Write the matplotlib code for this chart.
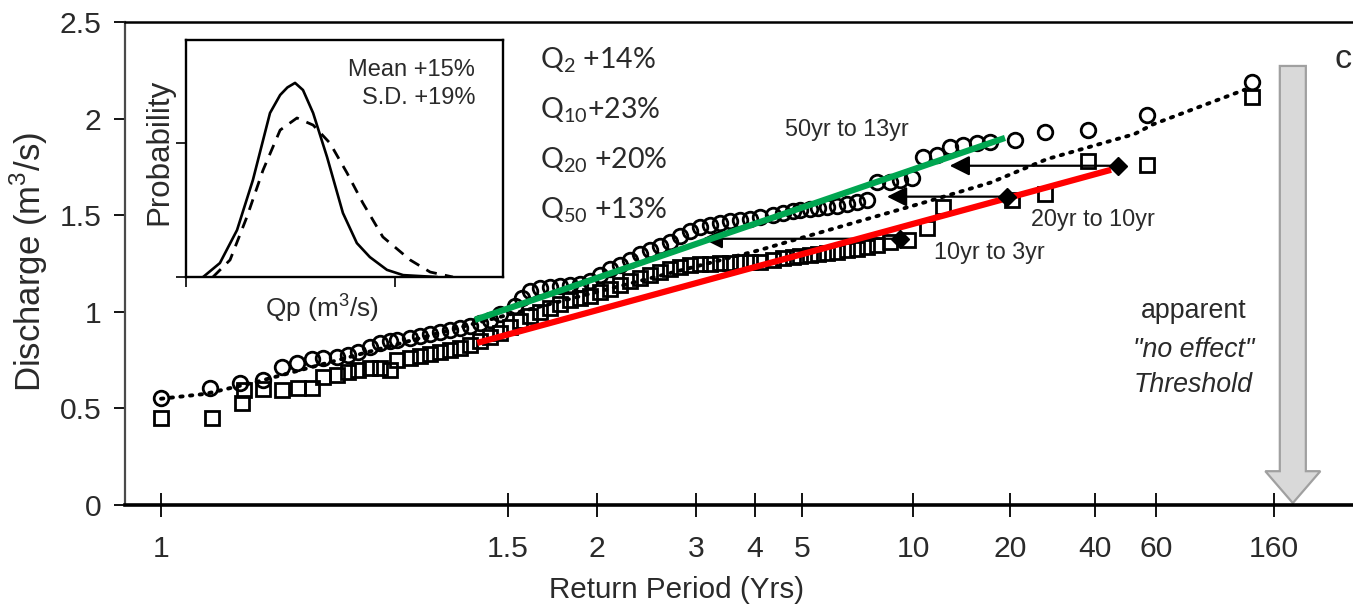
import numpy as np
import matplotlib
matplotlib.use('Agg')
import matplotlib.pyplot as plt
from matplotlib import font_manager
from matplotlib.patches import FancyArrow
from matplotlib.ticker import FixedLocator, FixedFormatter, NullLocator

# ---------------- data ----------------
tick_T = [1, 1.5, 2, 3, 4, 5, 10, 20, 40, 60, 160]
tick_labels = ['1', '1.5', '2', '3', '4', '5', '10', '20', '40', '60', '160']
y_ticks = [0, 0.5, 1, 1.5, 2, 2.5]
y_tick_labels = ['0', '0.5', '1', '1.5', '2', '2.5']

# circles (upper series): return period (yrs), discharge (m3/s)
circle_T = [1.000, 1.059, 1.097, 1.127, 1.152, 1.172, 1.193, 1.208, 1.228, 1.244,
            1.259, 1.277, 1.292, 1.307, 1.318, 1.338, 1.354, 1.369, 1.386, 1.402,
            1.418, 1.435, 1.452, 1.469, 1.486, 1.534, 1.570, 1.611, 1.664, 1.718,
            1.775, 1.833, 1.893, 1.955, 2.025, 2.109, 2.198, 2.290, 2.385, 2.485,
            2.589, 2.697, 2.810, 2.927, 3.059, 3.212, 3.372, 3.541, 3.718, 3.904,
            4.096, 4.357, 4.570, 4.791, 4.954, 5.256, 5.525, 5.845, 6.221, 6.622,
            7.050, 7.503, 7.987, 8.662, 9.220, 9.938, 10.74, 11.87, 13.03, 14.29,
            15.80, 17.34, 20.83, 26.61, 37.78, 56.51, 133.3]
circle_Q = [0.554, 0.606, 0.632, 0.648, 0.715, 0.736, 0.756, 0.760, 0.767, 0.777,
            0.793, 0.820, 0.840, 0.850, 0.855, 0.865, 0.875, 0.885, 0.895, 0.905,
            0.915, 0.925, 0.940, 0.960, 0.990, 1.030, 1.070, 1.110, 1.125, 1.130,
            1.135, 1.140, 1.145, 1.160, 1.190, 1.220, 1.240, 1.270, 1.300, 1.320,
            1.340, 1.360, 1.390, 1.420, 1.440, 1.450, 1.460, 1.470, 1.475, 1.480,
            1.490, 1.500, 1.510, 1.520, 1.525, 1.530, 1.535, 1.540, 1.550, 1.560,
            1.570, 1.580, 1.670, 1.670, 1.680, 1.690, 1.800, 1.810, 1.855, 1.865,
            1.875, 1.880, 1.890, 1.930, 1.940, 2.020, 2.190]

# squares (lower series)
square_T = [1.000, 1.061, 1.099, 1.102, 1.127, 1.152, 1.174, 1.193, 1.208, 1.228,
            1.244, 1.259, 1.277, 1.292, 1.307, 1.318, 1.338, 1.354, 1.369, 1.386,
            1.402, 1.418, 1.435, 1.452, 1.469, 1.486, 1.510, 1.559, 1.611, 1.664,
            1.718, 1.775, 1.833, 1.893, 1.955, 2.025, 2.109, 2.198, 2.290, 2.385,
            2.485, 2.589, 2.697, 2.810, 2.927, 3.059, 3.212, 3.372, 3.541, 3.718,
            3.904, 4.096, 4.357, 4.570, 4.791, 4.954, 5.256, 5.525, 5.845, 6.221,
            6.622, 7.050, 7.503, 7.987, 8.662, 9.693, 11.05, 12.39, 20.33, 26.61,
            37.78, 56.51, 133.3]
square_Q = [0.450, 0.450, 0.530, 0.595, 0.600, 0.595, 0.605, 0.605, 0.660, 0.675,
            0.690, 0.700, 0.710, 0.710, 0.700, 0.750, 0.760, 0.770, 0.780, 0.790,
            0.800, 0.815, 0.830, 0.850, 0.870, 0.890, 0.920, 0.950, 0.980, 1.000,
            1.020, 1.040, 1.060, 1.070, 1.080, 1.100, 1.120, 1.140, 1.160, 1.175,
            1.190, 1.205, 1.220, 1.230, 1.240, 1.250, 1.250, 1.255, 1.255, 1.260,
            1.260, 1.260, 1.270, 1.280, 1.285, 1.290, 1.295, 1.300, 1.305, 1.310,
            1.320, 1.325, 1.335, 1.345, 1.360, 1.370, 1.435, 1.545, 1.580, 1.610,
            1.780, 1.760, 2.110]

# dotted fitted curve
fit_T = [1.000, 1.053, 1.084, 1.116, 1.443, 4.096, 4.791, 7.183, 11.05, 17.5, 27.0, 52.0, 58.8, 125.7]
fit_Q = [0.550, 0.575, 0.605, 0.635, 0.940, 1.320, 1.370, 1.470, 1.570, 1.670, 1.790, 1.920, 1.970, 2.150]

# trend lines
green_T = [1.443, 19.30]
green_Q = [0.958, 1.900]
red_T = [1.447, 44.5]
red_Q = [0.839, 1.735]

# return-period shift arrows
shift_from_T = [46.6, 19.58, 9.22]
shift_to_T = [13.0, 8.5, 3.1]
shift_Q = [1.756, 1.596, 1.378]
shift_labels = ['50yr to 13yr', '20yr to 10yr', '10yr to 3yr']
shift_label_T = [6.6, 39.4, 17.2]
shift_label_Q = [1.943, 1.477, 1.306]

# inset probability curves (relative units)
solid_u = [0.054, 0.107, 0.161, 0.211, 0.265, 0.297, 0.320, 0.344, 0.369, 0.401,
           0.445, 0.495, 0.539, 0.580, 0.634, 0.685, 0.790]
solid_v = [0.000, 0.059, 0.198, 0.409, 0.692, 0.768, 0.800, 0.819, 0.789, 0.692,
           0.506, 0.270, 0.143, 0.084, 0.030, 0.008, 0.000]
dashed_u = [0.085, 0.139, 0.192, 0.243, 0.297, 0.350, 0.401, 0.454, 0.508, 0.558,
            0.621, 0.707, 0.770, 0.842]
dashed_v = [0.000, 0.072, 0.253, 0.451, 0.620, 0.671, 0.641, 0.565, 0.439, 0.312,
            0.169, 0.072, 0.021, 0.000]

q_texts = ['Q$_\\mathregular{2}$ +14%', 'Q$_\\mathregular{10}$+23%',
           'Q$_\\mathregular{20}$ +20%', 'Q$_\\mathregular{50}$ +13%']

# ---------------- layout helpers ----------------
# position of each labelled return period along the (hand-made) probability axis
tick_pos = np.array([161, 508, 597, 696, 755, 802, 913, 1010, 1095, 1156, 1274], float)
LX = np.log(np.array(tick_T, float))


def _extrap(x, xp, fp):
    x = np.asarray(x, float)
    out = np.interp(x, xp, fp)
    lo_s = (fp[1] - fp[0]) / (xp[1] - xp[0])
    hi_s = (fp[-1] - fp[-2]) / (xp[-1] - xp[-2])
    out = np.where(x < xp[0], fp[0] + (x - xp[0]) * lo_s, out)
    out = np.where(x > xp[-1], fp[-1] + (x - xp[-1]) * hi_s, out)
    return out


def fwd(t):
    t = np.asarray(t, float)
    return _extrap(np.log(np.clip(t, 1e-6, None)), LX, tick_pos)


def inv(p):
    return np.exp(_extrap(p, tick_pos, LX))


names = {f.name for f in font_manager.fontManager.ttflist}
NARROW = 'Liberation Sans Narrow' in names
HF = 'Liberation Sans Narrow' if NARROW else 'Liberation Sans'
HS = 1.0 if NARROW else 0.82
TXT = '#2a2a2a'

W, H = 1353, 613
fig = plt.figure(figsize=(W / 100, H / 100), dpi=100)
ax = fig.add_axes([125 / W, 1 - 505 / H, 1228 / W, 483 / H])
ax.set_xscale('function', functions=(fwd, inv))
ax.set_xlim(float(inv(125.0)), float(inv(1353.0)))
ax.set_ylim(0, 2.5)

ax.xaxis.set_major_locator(FixedLocator(tick_T))
ax.xaxis.set_major_formatter(FixedFormatter(tick_labels))
ax.xaxis.set_minor_locator(NullLocator())
ax.yaxis.set_major_locator(FixedLocator(y_ticks))
ax.yaxis.set_major_formatter(FixedFormatter(y_tick_labels))
ax.yaxis.set_minor_locator(NullLocator())

ax.tick_params(axis='x', direction='inout', length=17, width=1.3, pad=13,
               labelsize=26.5 * HS, labelcolor=TXT)
ax.tick_params(axis='y', direction='out', length=8, width=1.3, pad=9,
               labelsize=26.5 * HS, labelcolor=TXT)
for lab in ax.get_xticklabels() + ax.get_yticklabels():
    lab.set_fontfamily(HF)

ax.spines['right'].set_visible(False)
ax.spines['bottom'].set_linewidth(2.6)
ax.spines['left'].set_linewidth(1.6)
ax.spines['left'].set_color('#4a4a4a')
ax.spines['top'].set_linewidth(1.8)

ax.set_xlabel('Return Period (Yrs)', fontfamily=HF, fontsize=26 * HS, color=TXT, va='center')
ax.xaxis.set_label_coords(0.449, -0.176)
ax.set_ylabel('Discharge (m$^\\mathregular{3}$/s)', fontfamily='Liberation Sans',
              fontsize=25, color=TXT, va='center')
ax.yaxis.set_label_coords(-0.078, 0.503)

# data
ax.plot(square_T, square_Q, ls='none', marker='s', ms=9.5, mfc='none', mec='black',
        mew=2.0, zorder=3)
ax.plot(circle_T, circle_Q, ls='none', marker='o', ms=10.5, mfc='none', mec='black',
        mew=2.0, zorder=3)
ax.plot(fit_T, fit_Q, ls=(0, (0.6, 1.9)), lw=2.8, color='black', zorder=4,
        dash_capstyle='round')

for ft, tt, q in zip(shift_from_T, shift_to_T, shift_Q):
    ax.annotate('', xy=(tt, q), xytext=(ft, q),
                arrowprops=dict(arrowstyle='-|>', color='black', lw=1.6,
                                mutation_scale=30, shrinkA=0, shrinkB=0),
                zorder=5)
for lt, lq, lab in zip(shift_label_T, shift_label_Q, shift_labels):
    ax.text(lt, lq, lab, ha='center', va='center', fontfamily=HF,
            fontsize=20.5 * HS, color=TXT, zorder=6)

ax.plot(green_T, green_Q, color='#00A651', lw=4.5, solid_capstyle='butt', zorder=6)
ax.plot(red_T, red_Q, color='#FF0000', lw=4.5, solid_capstyle='butt', zorder=6)
ax.plot(shift_from_T, shift_Q, ls='none', marker='D', ms=9, color='black', zorder=7)

# Q-change text
for i, s in enumerate(q_texts):
    ax.text(0.338, 0.921 - i * 0.1035, s, transform=ax.transAxes, ha='left',
            va='center', fontfamily='Lato', fontsize=20.5, color=TXT)

# threshold arrow and text
arr = FancyArrow(0.951, 0.909, 0, -0.905, width=0.0212, head_width=0.0448,
                 head_length=0.066, length_includes_head=True, transform=ax.transAxes,
                 facecolor='#D9D9D9', edgecolor='#A0A0A0', lw=1.6, zorder=2,
                 clip_on=False)
ax.add_patch(arr)
ax.text(0.870, 0.402, 'apparent', transform=ax.transAxes, ha='center', va='center',
        fontfamily=HF, fontsize=23.5 * HS, color=TXT)
ax.text(0.870, 0.321, '"no effect"', transform=ax.transAxes, ha='center', va='center',
        fontfamily=HF, fontstyle='italic', fontsize=23.5 * HS, color=TXT)
ax.text(0.870, 0.248, 'Threshold', transform=ax.transAxes, ha='center', va='center',
        fontfamily=HF, fontstyle='italic', fontsize=23.5 * HS, color=TXT)
fig.text(1343 / W, 1 - 59 / H, 'c', ha='center', va='center', fontfamily=HF,
         fontsize=30 * HS, color=TXT)

# inset
ins = fig.add_axes([186 / W, 1 - 277 / H, 317 / W, 237 / H])
ins.set_xlim(0, 1)
ins.set_ylim(0, 1)
ins.plot(solid_u, solid_v, color='black', lw=1.9)
ins.plot(dashed_u, dashed_v, color='black', lw=2.0, ls=(0, (4, 3)))
ins.set_xticks([0, 0.66])
ins.set_yticks([0, 0.565])
ins.set_xticklabels([])
ins.set_yticklabels([])
ins.tick_params(direction='out', length=7, width=1.2)
for sp in ins.spines.values():
    sp.set_linewidth(1.7)
ins.set_xlabel('Qp (m$^\\mathregular{3}$/s)', fontfamily=HF, fontsize=23 * HS, color=TXT,
               va='center')
ins.xaxis.set_label_coords(0.429, -0.131)
ins.set_ylabel('Probability', fontfamily='Liberation Sans', fontsize=22.5, color=TXT,
               va='center')
ins.yaxis.set_label_coords(-0.085, 0.527)
ins.text(0.912, 0.873, 'Mean +15%', transform=ins.transAxes, ha='right', va='center',
         fontfamily=HF, fontsize=20.8 * HS, color=TXT)
ins.text(0.912, 0.755, 'S.D. +19%', transform=ins.transAxes, ha='right', va='center',
         fontfamily=HF, fontsize=20.8 * HS, color=TXT)

fig.savefig('out.png', dpi=100)
